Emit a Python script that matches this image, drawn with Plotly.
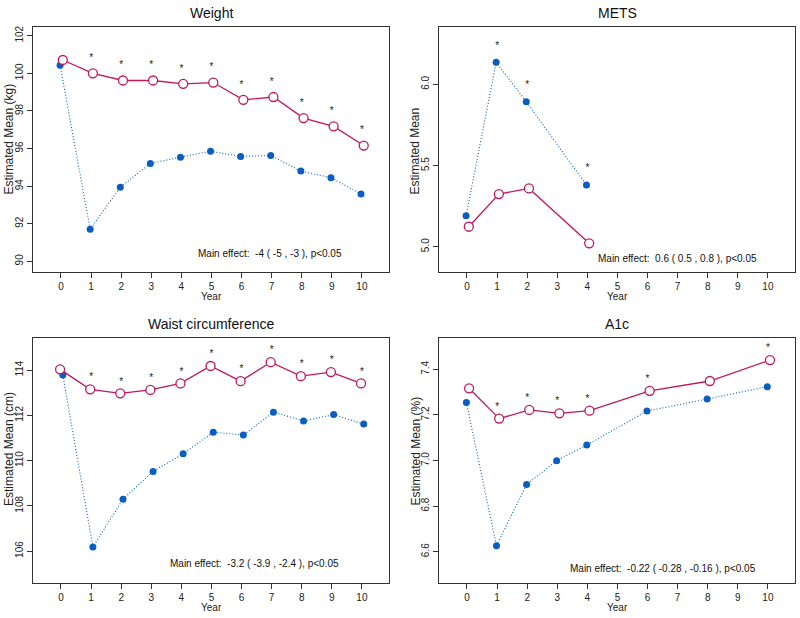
import plotly.graph_objects as go

# ---------------- data ----------------
titles = ["Weight", "METS", "Waist circumference", "A1c"]
ylabels = ["Estimated Mean (kg)", "Estimated Mean", "Estimated Mean (cm)", "Estimated Mean (%)"]
effects = [
    "Main effect:  -4 ( -5 , -3 ), p<0.05",
    "Main effect:  0.6 ( 0.5 , 0.8 ), p<0.05",
    "Main effect:  -3.2 ( -3.9 , -2.4 ), p<0.05",
    "Main effect:  -0.22 ( -0.28 , -0.16 ), p<0.05",
]

weight_years = [0, 1, 2, 3, 4, 5, 6, 7, 8, 9, 10]
weight_ctrl = [100.71, 100.0, 99.62, 99.62, 99.44, 99.51, 98.59, 98.74, 97.62, 97.18, 96.16]
weight_int = [100.43, 91.71, 93.94, 95.21, 95.54, 95.86, 95.58, 95.63, 94.80, 94.45, 93.58]
weight_sig = [0, 1, 1, 1, 1, 1, 1, 1, 1, 1, 1]

mets_years = [0, 1, 2, 4]
mets_ctrl = [5.123, 5.324, 5.359, 5.021]
mets_int = [5.191, 6.136, 5.893, 5.380]
mets_sig = [0, 1, 1, 1]

waist_years = [0, 1, 2, 3, 4, 5, 6, 7, 8, 9, 10]
waist_ctrl = [114.03, 113.15, 112.97, 113.12, 113.41, 114.18, 113.51, 114.35, 113.73, 113.91, 113.41]
waist_int = [113.78, 106.18, 108.29, 109.52, 110.30, 111.25, 111.13, 112.14, 111.75, 112.03, 111.61]
waist_sig = [0, 1, 1, 1, 1, 1, 1, 1, 1, 1, 1]

a1c_years = [0, 1, 2, 3, 4, 6, 8, 10]
a1c_ctrl = [7.317, 7.184, 7.222, 7.207, 7.219, 7.306, 7.349, 7.441]
a1c_int = [7.255, 6.626, 6.895, 6.999, 7.068, 7.217, 7.270, 7.324]
a1c_sig = [0, 1, 1, 1, 1, 1, 0, 1]

x_ticks = list(range(0, 11))
y_ticks = [[90, 92, 94, 96, 98, 100, 102], [5.0, 5.5, 6.0],
           [106, 108, 110, 112, 114], [6.6, 6.8, 7.0, 7.2, 7.4]]
y_ticktext = [["90", "92", "94", "96", "98", "100", "102"], ["5.0", "5.5", "6.0"],
              ["106", "108", "110", "112", "114"], ["6.6", "6.8", "7.0", "7.2", "7.4"]]

# ---------------- styles / layout ----------------
panels = [
    (weight_years, weight_ctrl, weight_int, weight_sig),
    (mets_years, mets_ctrl, mets_int, mets_sig),
    (waist_years, waist_ctrl, waist_int, waist_sig),
    (a1c_years, a1c_ctrl, a1c_int, a1c_sig),
]
y_ranges = [[89.45, 102.48], [4.846, 6.355], [104.6, 115.43], [6.464, 7.539]]
x_range = [-0.93, 10.9]
# small horizontal jitter (ctrl, int) per panel
jitter = [(0.06, -0.03), (0.06, -0.03), (-0.03, 0.06), (0.07, -0.02)]
star_off = [0.78, 0.10, 0.50, 0.050]
effect_pos = [(6.94, 90.44), (6.99, 4.93), (6.44, 105.47), (6.5, 6.527)]

W, H = 800, 618
px_dom_x = [(33, 389), (439, 795), (33, 389), (439, 795)]
px_dom_y = [(26.7, 271.7), (26.7, 271.7), (337.7, 582.7), (337.7, 582.7)]

MAG = "#C0175D"
BLUE = "#0B5EC1"
FRAME = "#333333"
FONT = "Liberation Sans, Arial, sans-serif"


def fx(p):
    return p / W


def fy(p):
    return 1 - p / H


fig = go.Figure()
layout = dict(
    width=W, height=H, margin=dict(l=0, r=0, t=0, b=0),
    paper_bgcolor="white", plot_bgcolor="white", showlegend=False,
    font=dict(family=FONT, size=10, color="#222"),
)
annotations = []

for i, (years, ctrl, inte, sig) in enumerate(panels):
    xa = "x" if i == 0 else f"x{i+1}"
    ya = "y" if i == 0 else f"y{i+1}"
    xkey = "xaxis" if i == 0 else f"xaxis{i+1}"
    ykey = "yaxis" if i == 0 else f"yaxis{i+1}"
    jc, ji = jitter[i]

    fig.add_trace(go.Scatter(
        x=[y + ji for y in years], y=inte, xaxis=xa, yaxis=ya, mode="lines+markers",
        line=dict(color=BLUE, width=1.1, dash="1px,2px"),
        marker=dict(color=BLUE, size=7, symbol="circle"),
        cliponaxis=False, hoverinfo="skip"))
    fig.add_trace(go.Scatter(
        x=[y + jc for y in years], y=ctrl, xaxis=xa, yaxis=ya, mode="lines+markers",
        line=dict(color=MAG, width=1.3),
        marker=dict(color="white", size=9, symbol="circle", line=dict(color=MAG, width=1.3)),
        cliponaxis=False, hoverinfo="skip"))
    sx = [y for y, s in zip(years, sig) if s]
    sy = [max(c, t) + star_off[i] for c, t, s in zip(ctrl, inte, sig) if s]
    fig.add_trace(go.Scatter(
        x=sx, y=sy, xaxis=xa, yaxis=ya, mode="text", text=["*"] * len(sx),
        textfont=dict(family=FONT, size=10, color="#222"), textposition="middle center",
        cliponaxis=False, hoverinfo="skip"))

    x0, x1 = px_dom_x[i]
    yt, yb = px_dom_y[i]
    layout[xkey] = dict(
        domain=[fx(x0), fx(x1)], range=x_range, anchor=ya,
        tickvals=x_ticks, ticktext=[str(t) for t in x_ticks],
        showline=True, linecolor=FRAME, linewidth=1.3, mirror=True,
        ticks="outside", ticklen=5, tickwidth=1, tickcolor=FRAME,
        showgrid=False, zeroline=False, tickfont=dict(size=10, color="#222"),
    )
    layout[ykey] = dict(
        domain=[fy(yb), fy(yt)], range=y_ranges[i], anchor=xa,
        tickvals=y_ticks[i], ticktext=y_ticktext[i], tickangle=-90,
        showline=True, linecolor=FRAME, linewidth=1.3, mirror=True,
        ticks="outside", ticklen=5, tickwidth=1, tickcolor=FRAME,
        showgrid=False, zeroline=False, tickfont=dict(size=10, color="#222"),
    )
    cx = (x0 + x1) / 2
    # panel title
    annotations.append(dict(
        text=titles[i], x=fx(cx), y=fy(yt - 13.5), xref="paper", yref="paper",
        showarrow=False, font=dict(size=14, color="#111"), xanchor="center", yanchor="middle"))
    # x title
    annotations.append(dict(
        text="Year", x=fx(cx), y=fy(yb + 24.5), xref="paper", yref="paper",
        showarrow=False, font=dict(size=10, color="#222"), xanchor="center", yanchor="middle"))
    # y title (starts ~75px above the bottom of the frame)
    annotations.append(dict(
        text=ylabels[i], x=fx(x0 - 24), y=fy(yb - 74.7), xref="paper", yref="paper",
        showarrow=False, textangle=-90, font=dict(size=12, color="#222"),
        xanchor="center", yanchor="bottom"))
    # main effect
    ex, ey = effect_pos[i]
    annotations.append(dict(
        text=effects[i], x=ex, y=ey, xref=xa, yref=ya, showarrow=False,
        font=dict(size=10, color="#111"), xanchor="center", yanchor="middle"))

layout["annotations"] = annotations
fig.update_layout(**layout)
fig.write_html("out.html", config={"displayModeBar": False},
               post_script="document.body.style.margin='0px';")
